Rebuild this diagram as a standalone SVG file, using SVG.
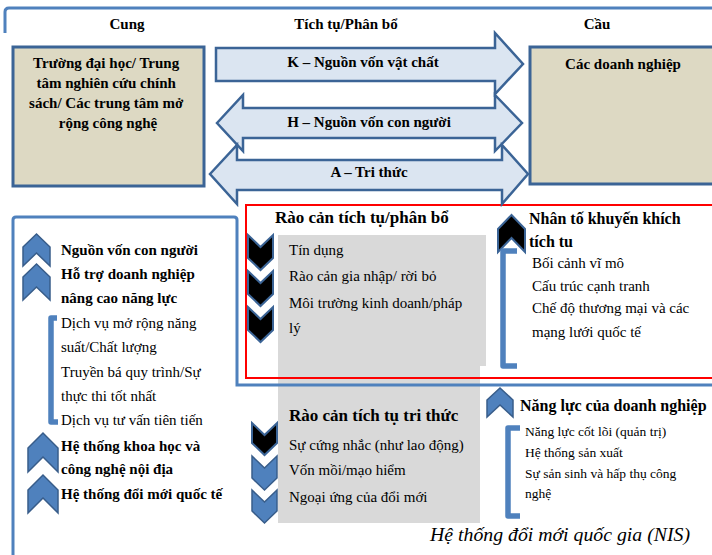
<svg xmlns="http://www.w3.org/2000/svg" width="712" height="555" viewBox="0 0 712 555">
<style>
text{font-family:"Liberation Serif","Times New Roman",serif;fill:#000}
.b{font-weight:bold}
.h{font-size:15px;font-weight:bold}
.t15{font-size:15px}
.t13{font-size:13.5px}
.t16{font-size:16px;font-weight:bold}
.t17{font-size:17px;font-weight:bold}
.box{fill:#ddd9c3;stroke:#3b6496;stroke-width:3}
.arr{fill:#dbe5f1;stroke:#3b6496;stroke-width:2.5;stroke-linejoin:miter}
.frame{fill:none;stroke:#4f81bd;stroke-width:3}
.red{fill:none;stroke:#ff0000;stroke-width:2}
.cb{fill:#4f81bd;stroke:#385d8a;stroke-width:1.5}
.ck{fill:#000;stroke:#3b6496;stroke-width:2}
.br{fill:none;stroke:#4f81bd;stroke-width:5.5;stroke-linejoin:round}
.gray{fill:#d9d9d9}
</style>

<!-- frames -->
<g id="frames">
<path class="frame" d="M5,33 L5,12 Q5,8 9,8 L712,8"/>
<path class="gray" d="M278,235 L486,235 L486,366 L480,366 L480,523 L278,523 Z"/>
<path class="frame" d="M13,555 L13,220 Q13,217 16,217 L234,217 Q237,217 237,220 L237,385 L712,385"/>
<rect class="red" x="246" y="205" width="480" height="173"/>
</g>

<!-- headers -->
<g id="headers">
<text class="h" x="127" y="29" text-anchor="middle">Cung</text>
<text class="h" x="346" y="29" text-anchor="middle">Tích tụ/Phân bổ</text>
<text class="h" x="597" y="29" text-anchor="middle">Cầu</text>
</g>

<g id="supply">
<rect class="box" x="13" y="47" width="191" height="139"/>
<text class="h" text-anchor="middle">
<tspan x="108" y="68">Trường đại học/ Trung</tspan>
<tspan x="108" y="88">tâm nghiên cứu chính</tspan>
<tspan x="108" y="108">sách/ Các trung tâm mở</tspan>
<tspan x="108" y="128">rộng công nghệ</tspan>
</text>
</g>

<g id="demand">
<rect class="box" x="530" y="47" width="190" height="137"/>
<text class="h" x="623" y="69" text-anchor="middle">Các doanh nghiệp</text>
</g>

<g id="connectors">
<g id="arrow-K">
<path class="arr" d="M216,48 L495,48 L495,33 L523,64 L495,94 L495,81 L216,81 Z"/>
<text class="h" x="363" y="67" text-anchor="middle">K – Nguồn vốn vật chất</text>
</g>
<g id="arrow-H">
<path class="arr" d="M217,123 L243,95 L243,108 L495,108 L495,95 L522,123 L495,151 L495,138 L243,138 L243,151 Z"/>
<text class="h" x="369" y="127" text-anchor="middle">H – Nguồn vốn con người</text>
</g>
<g id="arrow-A">
<path class="arr" d="M210,174 L237,145 L237,160 L502,160 L502,145 L528,174 L502,204 L502,190 L237,190 L237,204 Z"/>
<text class="h" x="369" y="177" text-anchor="middle">A – Tri thức</text>
</g>
</g>

<g id="left-column">
<polygon class="cb" points="23,247 36.5,234 50,247 50,266 36.5,253 23,266"/>
<polygon class="cb" points="23,277 36.5,264 50,277 50,300 36.5,287 23,300"/>
<polygon class="cb" points="28,448 43,433 58,448 58,472 43,457 28,472"/>
<polygon class="cb" points="28,490 43,475 58,490 58,513 43,498 28,513"/>
<path class="br" d="M57,318 L51,318 L51,422 L58,422"/>
<text class="t15 b" x="61" y="255">Nguồn vốn con người</text>
<text class="t15 b" x="61" y="279">Hỗ trợ doanh nghiệp</text>
<text class="t15 b" x="61" y="303">nâng cao năng lực</text>
<text class="t15" x="61" y="328">Dịch vụ mở rộng năng</text>
<text class="t15" x="61" y="352">suất/Chất lượng</text>
<text class="t15" x="61" y="377">Truyền bá quy trình/Sự</text>
<text class="t15" x="61" y="401">thực thi tốt nhất</text>
<text class="t15" x="61" y="425">Dịch vụ tư vấn tiên tiến</text>
<text class="t15 b" x="61" y="451">Hệ thống khoa học và</text>
<text class="t15 b" x="61" y="474">công nghệ nội địa</text>
<text class="t15 b" x="61" y="499">Hệ thống đổi mới quốc tế</text>
</g>

<g id="accumulation-barriers">
<polygon class="ck" points="248,235 260.5,247 273,235 273,258 260.5,270 248,258"/>
<polygon class="ck" points="248,271 260.5,283 273,271 273,294 260.5,306 248,294"/>
<polygon class="ck" points="248,307 260.5,319 273,307 273,330 260.5,342 248,330"/>
<text class="t17" x="275" y="223">Rào cản tích tụ/phân bổ</text>
<text class="t15" x="289" y="255">Tín dụng</text>
<text class="t15" x="289" y="281">Rào cản gia nhập/ rời bỏ</text>
<text class="t15" x="289" y="308">Môi trường kinh doanh/pháp</text>
<text class="t15" x="289" y="333">lý</text>
</g>

<g id="knowledge-barriers">
<polygon class="ck" points="252,423 264.5,435 277,423 277,443 264.5,455 252,443"/>
<polygon class="cb" points="252,456 264.5,468 277,456 277,478 264.5,490 252,478"/>
<polygon class="cb" points="252,490 264.5,502 277,490 277,511 264.5,523 252,511"/>
<text class="t17" x="289" y="421">Rào cản tích tụ tri thức</text>
<text class="t15" x="289" y="450">Sự cứng nhắc (như lao động)</text>
<text class="t15" x="289" y="475">Vốn mồi/mạo hiểm</text>
<text class="t15" x="289" y="502">Ngoại ứng của đổi mới</text>
</g>

<g id="incentives">
<polygon class="ck" points="498,229 511.5,215 525,229 525,252 511.5,238 498,252"/>
<path class="br" d="M517,251 L503,251 L503,366 L517,366"/>
<text class="t16" x="529" y="224">Nhân tố khuyến khích</text>
<text class="t16" x="529" y="247">tích tu</text>
<text class="t15" x="532" y="268">Bối cảnh vĩ mô</text>
<text class="t15" x="532" y="291">Cấu trúc cạnh tranh</text>
<text class="t15" x="532" y="313">Chế độ thương mại và các</text>
<text class="t15" x="532" y="337">mạng lưới quốc tế</text>
</g>

<g id="firm-capability">
<polygon class="cb" points="487,400 500,388 513,400 513,417 500,405 487,417"/>
<path class="br" d="M520,428 L508,428 L508,516 L520,516"/>
<text class="t16" x="520" y="411">Năng lực của doanh nghiệp</text>
<text class="t13" x="525" y="436">Năng lực cốt lõi (quản trị)</text>
<text class="t13" x="525" y="457">Hệ thống sản xuất</text>
<text class="t13" x="525" y="478">Sự sản sinh và hấp thụ công</text>
<text class="t13" x="525" y="498">nghệ</text>
</g>

<g id="nis-label">
<text x="430" y="541" style="font-size:19.8px;font-style:italic">Hệ thống đổi mới quốc gia (NIS)</text>
</g>
</svg>
